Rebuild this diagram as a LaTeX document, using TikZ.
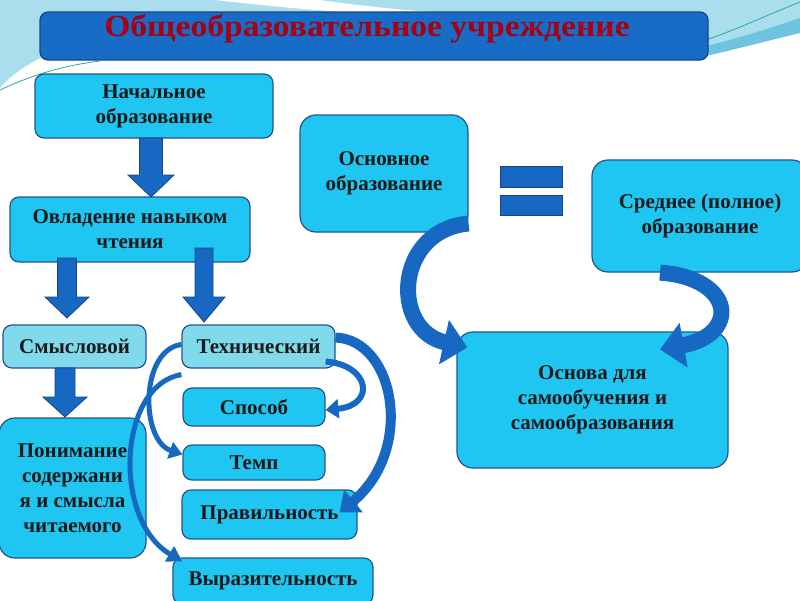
\documentclass[tikz,border=0pt]{standalone}
\usepackage{fontspec}
\setmainfont{Liberation Serif}
\usetikzlibrary{arrows.meta}
\definecolor{boxfill}{RGB}{32,198,242}
\definecolor{boxlight}{RGB}{128,218,236}
\definecolor{boxline}{RGB}{35,85,140}
\definecolor{arrfill}{RGB}{22,104,194}
\definecolor{arrline}{RGB}{20,70,135}
\definecolor{titlefill}{RGB}{24,108,198}
\definecolor{titletext}{RGB}{165,0,20}
\definecolor{txt}{RGB}{25,25,25}
\definecolor{bgblue}{RGB}{170,222,236}
\definecolor{bgdark}{RGB}{110,196,222}
\definecolor{bgline}{RGB}{40,170,160}
\begin{document}
\begin{tikzpicture}[x=1pt,y=-1pt,
  box/.style={draw=boxline, line width=1.2pt, fill=boxfill, rounded corners=9pt,
    align=center, text=txt, font=\bfseries\fontsize{21}{25}\selectfont, inner sep=0pt},
  lightbox/.style={box, fill=boxlight},
  bigbox/.style={box, rounded corners=16pt},
  blockarrow/.style={fill=arrfill, draw=arrline, line width=0.8pt, line join=miter},
  curvearrow/.style={draw=arrfill, line cap=butt}
]
\useasboundingbox (0,0) rectangle (800,600);
\fill[white] (0,0) rectangle (800,600);
% background swooshes
\fill[bgblue] (0,0) -- (800,0) -- (800,33) .. controls (770,40) and (740,48) .. (706,56) -- (706,58) -- (40,58) .. controls (25,66) and (10,76) .. (0,88) -- cycle;
\fill[bgdark] (706,46) .. controls (740,38) and (770,28) .. (800,18) -- (800,33) .. controls (770,40) and (740,48) .. (706,56) -- cycle;
\fill[white] (215,0) .. controls (260,5) and (300,9) .. (340,12) -- (430,12) .. controls (380,8) and (340,3) .. (320,0) -- cycle;
\draw[bgline, line width=0.8pt] (0,90) .. controls (30,76) and (60,66) .. (100,61);
\draw[bgline, line width=0.8pt] (706,40) .. controls (740,28) and (770,14) .. (800,2);

% title
\node[draw=arrline, line width=1.2pt, fill=titlefill, rounded corners=8pt, minimum width=668pt, minimum height=48pt] (title) at (374,36) {};
\node[text=titletext, inner sep=0pt] (titletxt) at (367,29) {\scalebox{1.2}[1.1]{\bfseries\fontsize{28}{30}\selectfont Общеобразовательное учреждение}};

% boxes
\node[box, minimum width=238pt, minimum height=64pt] (nach) at (154,106) {Начальное\\образование};
\node[box, minimum width=240pt, minimum height=65pt] (ovl) at (130,229.5) {Овладение навыком\\чтения};
\node[bigbox, minimum width=168pt, minimum height=117pt] (osn) at (384,173.5) {Основное\\образование};
\node[bigbox, minimum width=216pt, minimum height=112pt] (sred) at (700,216) {Среднее (полное)\\образование};
\node[bigbox, minimum width=271pt, minimum height=136pt] (osnova) at (592.5,400) {Основа для\\самообучения и\\самообразования};
\node[lightbox, minimum width=143pt, minimum height=43pt] (smysl) at (74.5,346.5) {Смысловой};
\node[lightbox, minimum width=153pt, minimum height=43pt] (tech) at (258.5,346.5) {Технический};
\node[box, minimum width=142pt, minimum height=38pt] (sposob) at (254,407) {Способ};
\node[box, minimum width=142pt, minimum height=35pt] (temp) at (254,462.5) {Темп};
\node[box, minimum width=175pt, minimum height=49pt] (prav) at (269.5,514.5) {Правильность};
\node[bigbox, minimum width=147pt, minimum height=140pt] (ponim) at (72.5,488) {Понимание\\содержани\\я и смысла\\читаемого};
\node[box, minimum width=200pt, minimum height=46pt] (vyraz) at (273,581) {Выразительность};

% equals sign
\fill[arrfill, draw=arrline, line width=0.6pt] (500,166) rectangle (562,187);
\fill[arrfill, draw=arrline, line width=0.6pt] (500,195) rectangle (562,215);

% straight block arrows
\draw[blockarrow] (139.5,138) -- (162.5,138) -- (162.5,175) -- (174,175) -- (151,197) -- (128,175) -- (139.5,175) -- cycle;
\draw[blockarrow] (57.5,258) -- (76.5,258) -- (76.5,297) -- (89,297) -- (67,318) -- (45,297) -- (57.5,297) -- cycle;
\draw[blockarrow] (195,248) -- (213,248) -- (213,297) -- (225,297) -- (204,322) -- (183,297) -- (195,297) -- cycle;
\draw[blockarrow] (55,368) -- (75,368) -- (75,397) -- (87,397) -- (65,417) -- (43,397) -- (55,397) -- cycle;

% curved arrows
\draw[curvearrow, line width=10pt, -{Triangle[width=28pt,length=18pt]}]
  ([yshift=9pt]tech.east) .. controls (395,340) and (415,450) .. ([xshift=-18pt,yshift=2pt]prav.east);
\draw[curvearrow, line width=6pt, -{Triangle[width=19pt,length=13pt]}]
  ([xshift=-10pt,yshift=-15pt]tech.east) .. controls (370,365) and (376,405) .. ([yshift=-3pt]sposob.east);
\draw[curvearrow, line width=5pt, -{Triangle[width=17pt,length=13pt]}]
  ([yshift=2pt]tech.west) .. controls (140,350) and (140,440) .. ([yshift=8pt]temp.west);
\draw[curvearrow, line width=5pt, -{Triangle[width=17pt,length=15pt]}]
  ([yshift=-6pt]tech.south west) .. controls (118,385) and (112,520) .. ([xshift=10pt,yshift=-4pt]vyraz.north west);
\draw[curvearrow, line width=16pt, -{Triangle[width=44pt,length=24pt]}]
  ([yshift=-50pt]osn.east) .. controls (395,230) and (390,330) .. ([xshift=11pt,yshift=-16pt]osnova.north west);
\draw[curvearrow, line width=16pt, -{Triangle[width=44pt,length=24pt]}]
  ([xshift=-40pt]sred.south) .. controls (735,278) and (740,335) .. ([xshift=67.5pt,yshift=-18pt]osnova.north);
\end{tikzpicture}
\end{document}
